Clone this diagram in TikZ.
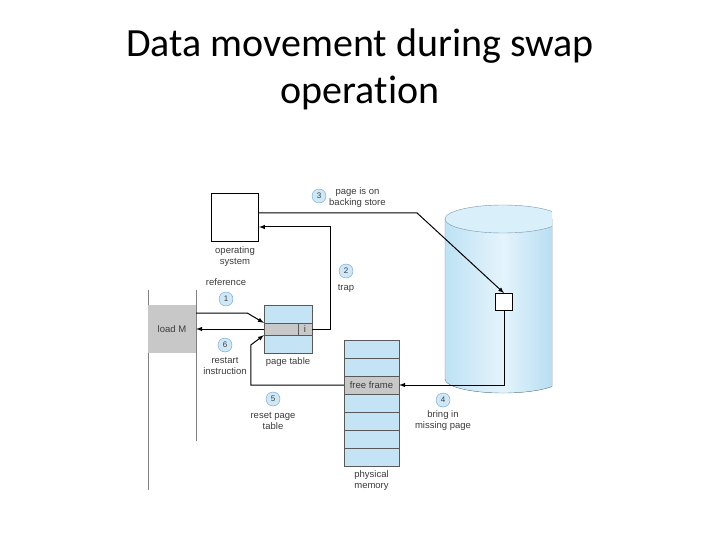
\documentclass[tikz,border=0pt]{standalone}
\usepackage{fontspec}
\setmainfont{Liberation Sans}
\newfontfamily\titlefont[Ligatures=NoCommon]{Carlito}
\usetikzlibrary{positioning}
\definecolor{pageblue}{RGB}{196,228,246}
\definecolor{rowgray}{RGB}{200,200,200}
\definecolor{stepfill}{RGB}{206,232,248}
\definecolor{stepline}{RGB}{110,160,200}
\definecolor{cylleft}{RGB}{190,226,244}
\definecolor{cylmid}{RGB}{228,244,252}
\definecolor{cylright}{RGB}{176,218,240}
\definecolor{cylline}{RGB}{120,150,170}
\definecolor{txtgray}{RGB}{60,60,60}
\tikzset{
  >=latex,
  lbl/.style={font=\fontsize{9.5}{11}\selectfont, text=txtgray, align=center, inner sep=0pt},
  stepno/.style={circle, draw=stepline, fill=stepfill, inner sep=0pt, minimum size=14pt,
    font=\fontsize{8}{8}\selectfont, text=txtgray},
  cell/.style={draw=gray!70!black, thin, fill=pageblue, minimum width=55pt, minimum height=18pt,
    inner sep=0pt},
  link/.style={->, line width=1pt}
}

\begin{document}
\begin{tikzpicture}[x=1pt,y=-1pt]
  \useasboundingbox (0,0) rectangle (720,540);
  % title
  \node[font=\titlefont\fontsize{40}{47}\selectfont, align=center, anchor=base] (title)
    at (360,104) {Data movement during swap\\operation};

  % backing store
  \begin{scope}
    \clip (430,190) rectangle (552,400);
    \fill[left color=cylleft, right color=cylright, middle color=cylmid]
      (445,219) -- (445,379) arc[start angle=180, end angle=0, x radius=58, y radius=14]
      -- (561,219) -- cycle;
    \draw[cylline, thin] (445,219) -- (445,379)
      arc[start angle=180, end angle=0, x radius=58, y radius=14] -- (561,219);
    \draw[cylline, thin, fill=cylmid!70!cylleft] (503,219) ellipse[x radius=58, y radius=14];
  \end{scope}
  \node[draw, thick, fill=white, minimum size=17pt, inner sep=0pt] (blk) at (504,302) {};

  % operating system
  \node[draw, line width=1.2pt, minimum width=47pt, minimum height=48pt, inner sep=0pt] (os)
    at (235,217.5) {};
  \node[lbl, below=4pt of os] (oslbl) {operating\\system};

  % program
  \draw[gray] (148,290) -- (148,490);
  \draw[gray] (196,290) -- (196,441);
  \node[fill=rowgray, minimum width=48pt, minimum height=48pt, inner sep=0pt,
    font=\fontsize{9.5}{10}\selectfont, text=txtgray] (load) at (172,329) {load M};

  % page table
  \node[draw=gray!70!black, thin, fill=pageblue, minimum width=48pt, minimum height=48pt,
    inner sep=0pt] (pt) at (288,329) {};
  \node[draw=gray!70!black, thin, fill=rowgray, minimum width=48pt, minimum height=12pt,
    inner sep=0pt] (row) at (288,329) {};
  \draw[gray!70!black, thin] (298,323) -- (298,335);
  \node[lbl] (icell) at (305,329) {i};
  \node[lbl, below=4pt of pt] (ptlbl) {page table};

  % physical memory
  \foreach \r in {0,...,6}
    \node[cell] (m\r) at (371.5,349+18*\r) {};
  \node[cell, fill=rowgray, font=\fontsize{9.5}{10}\selectfont, text=txtgray] (ff) at (m2) {free frame};
  \node[lbl, below=4pt of m6] (pmlbl) {physical\\memory};

  % steps
  \draw[link] ([yshift=16pt]load.east) -- ++(51,0) -- (row.north west);
  \draw[link] (row.east) -- ++(18,0) |- ([yshift=-9.5pt]os.east);
  \draw[link] ([yshift=4.5pt]os.east) -- ++(158,0) -- (blk.north);
  \draw[link] (blk.south) |- (ff.east);
  \draw[link] (ff.west) -- ++(-93,0) -- ++(0,-40) -- (row.south west);
  \draw[link] (row.west) -- (load.east);

  \node[stepno] (s1) at (226,299) {1};
  \node[lbl] (s1lbl) at (226,282) {reference};
  \node[stepno] (s2) at (346,271) {2};
  \node[lbl] (s2lbl) at (346,288) {trap};
  \node[stepno] (s3) at (319,196) {3};
  \node[lbl, anchor=west] (s3lbl) at (329,198) {page is on\\backing store};
  \node[stepno] (s4) at (443,400) {4};
  \node[lbl] (s4lbl) at (443,421) {bring in\\missing page};
  \node[stepno] (s5) at (273,399) {5};
  \node[lbl] (s5lbl) at (273,421) {reset page\\table};
  \node[stepno] (s6) at (225,345) {6};
  \node[lbl] (s6lbl) at (225,366) {restart\\instruction};
\end{tikzpicture}
\end{document}
